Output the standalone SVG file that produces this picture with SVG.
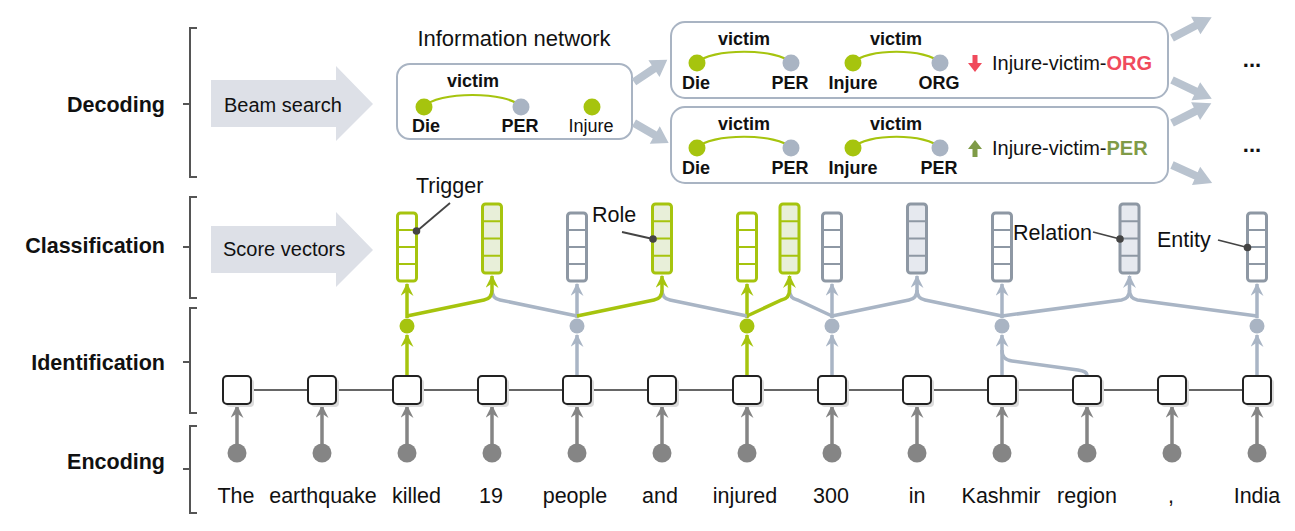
<svg xmlns="http://www.w3.org/2000/svg" xmlns:xlink="http://www.w3.org/1999/xlink" width="1295" height="531" viewBox="0 0 1295 531">
<style>
text{font-family:"Liberation Sans",Arial,Helvetica,sans-serif;fill:#111}
.sec{font-weight:bold;font-size:21.5px;text-anchor:end}
.n20{font-size:20px}
.w{font-size:21.5px;text-anchor:middle}
.cl{font-size:21.5px}
.b18{font-weight:bold;font-size:18px;text-anchor:middle}
.br{fill:none;stroke:#555;stroke-width:2}
.tok{fill:#fff;stroke:#222;stroke-width:2}
.sh{fill:#dcdcdc}
.enc{fill:#858585}
.cg{fill:#a6c40e}
.cb{fill:#a9b4c3}
.lg{fill:none;stroke:#a6c40e;stroke-width:3.5}
.lb{fill:none;stroke:#a9b5c5;stroke-width:3.5}
.le{fill:none;stroke:#858585;stroke-width:3.5}
.vg{fill:#fff;stroke:#a6c40e;stroke-width:3}
.vgf{fill:#e8efd9;stroke:#a6c40e;stroke-width:3}
.vb{fill:#fff;stroke:#8e98a4;stroke-width:3}
.vbf{fill:#e6e9ef;stroke:#8e98a4;stroke-width:3}
.dg{stroke:#a6c40e;stroke-width:2}
.db{stroke:#8e98a4;stroke-width:2}
.box{fill:#fff;stroke:#a9b4c3;stroke-width:2}
.arc{fill:none;stroke:#a6c40e;stroke-width:2.2}
.blk{fill:#b9c3cf}
.big{fill:#dde0e7}
.co{stroke:#444;stroke-width:1.8}
.cod{fill:#444}
</style>
<defs>
<marker id="mg" viewBox="0 0 12 12" refX="11" refY="6" markerWidth="13" markerHeight="13" orient="auto" markerUnits="userSpaceOnUse"><path d="M0,0 L12,6 L0,12 L4,6z" fill="#a6c40e"/></marker>
<marker id="mb" viewBox="0 0 12 12" refX="11" refY="6" markerWidth="13" markerHeight="13" orient="auto" markerUnits="userSpaceOnUse"><path d="M0,0 L12,6 L0,12 L4,6z" fill="#a9b5c5"/></marker>
<marker id="me" viewBox="0 0 12 12" refX="11" refY="6" markerWidth="13" markerHeight="13" orient="auto" markerUnits="userSpaceOnUse"><path d="M0,0 L12,6 L0,12 L4,6z" fill="#858585"/></marker>
<path id="ba" d="M0,-4 L24,-4 L24,-10 L40,0 L24,10 L24,4 L0,4 Z"/>
</defs>

<!-- section brackets and labels -->
<g id="sections">
<path class="br" d="M197,28 H190 V177 H197 M190,104 H183"/>
<path class="br" d="M197,197 H190 V298 H197 M190,247 H183"/>
<path class="br" d="M197,308 H190 V413 H197 M190,362 H183"/>
<path class="br" d="M197,426 H190 V513 H197 M190,469 H183"/>
<text class="sec" x="165" y="112">Decoding</text>
<text class="sec" x="165" y="253">Classification</text>
<text class="sec" x="165" y="370">Identification</text>
<text class="sec" x="165" y="469">Encoding</text>
</g>

<g id="beam-search">
<path class="big" d="M211,80 L336,80 L336,66 L373,104 L336,141 L336,127 L211,127 Z"/>
<text class="n20" x="224" y="112">Beam search</text>
</g>
<g id="score-vectors">
<path class="big" d="M211,226 L336,226 L336,212 L373,250 L336,287 L336,273 L211,273 Z"/>
<text class="n20" x="223" y="256">Score vectors</text>
</g>

<!-- information network -->
<g id="info-network">
<text x="514" y="46" style="font-size:22px;text-anchor:middle">Information network</text>
<rect class="box" x="397" y="64" width="235" height="75" rx="13"/>
<path class="arc" d="M424,107 C436,91 509,91 521,107"/>
<circle class="cg" cx="424" cy="107" r="8.5"/>
<circle class="cb" cx="521" cy="107" r="8.5"/>
<circle class="cg" cx="592" cy="107" r="8.5"/>
<text class="b18" x="473" y="87">victim</text>
<text class="b18" x="426" y="132">Die</text>
<text class="b18" x="520" y="132">PER</text>
<text x="591" y="132" style="font-size:18px;text-anchor:middle">Injure</text>
</g>

<g id="beam-1">
<rect class="box" x="671" y="22" width="497" height="76" rx="14"/>
<path class="arc" d="M697,63 C709,48 779,48 791,63"/>
<path class="arc" d="M853,63 C865,48 928,48 940,63"/>
<circle class="cg" cx="697" cy="63" r="8.5"/>
<circle class="cb" cx="791" cy="63" r="8.5"/>
<circle class="cg" cx="853" cy="63" r="8.5"/>
<circle class="cb" cx="940" cy="63" r="8.5"/>
<text class="b18" x="744" y="45">victim</text>
<text class="b18" x="896" y="45">victim</text>
<text class="b18" x="696" y="89">Die</text>
<text class="b18" x="790" y="89">PER</text>
<text class="b18" x="853" y="89">Injure</text>
<text class="b18" x="939" y="89">ORG</text>
<path d="M972.5,55 L977.5,55 L977.5,63 L982,63 L975,72 L968,63 L972.5,63 Z" fill="#f04a5c"/>
<text class="n20" x="992" y="70">Injure-victim-<tspan style="font-weight:bold;fill:#f04a5c">ORG</tspan></text>
</g>

<g id="beam-2">
<rect class="box" x="671" y="107" width="497" height="76" rx="14"/>
<path class="arc" d="M697,148 C709,133 779,133 791,148"/>
<path class="arc" d="M853,148 C865,133 928,133 940,148"/>
<circle class="cg" cx="697" cy="148" r="8.5"/>
<circle class="cb" cx="791" cy="148" r="8.5"/>
<circle class="cg" cx="853" cy="148" r="8.5"/>
<circle class="cb" cx="940" cy="148" r="8.5"/>
<text class="b18" x="744" y="130">victim</text>
<text class="b18" x="896" y="130">victim</text>
<text class="b18" x="696" y="174">Die</text>
<text class="b18" x="790" y="174">PER</text>
<text class="b18" x="853" y="174">Injure</text>
<text class="b18" x="939" y="174">PER</text>
<path d="M975,140 L982,149 L977.5,149 L977.5,157 L972.5,157 L972.5,149 L968,149 Z" fill="#7f9b47"/>
<text class="n20" x="992" y="155">Injure-victim-<tspan style="font-weight:bold;fill:#7f9b47">PER</tspan></text>
</g>

<g id="ellipsis">
<text x="1252" y="67" style="font-size:22px;font-weight:bold;text-anchor:middle">...</text>
<text x="1252" y="152" style="font-size:22px;font-weight:bold;text-anchor:middle">...</text>
</g>

<!-- connectors -->
<g id="connectors">
<use href="#ba" class="blk" transform="translate(634,82) rotate(-33.7)"/>
<use href="#ba" class="blk" transform="translate(634,123) rotate(30)"/>
<use href="#ba" class="blk" transform="translate(1172,38) rotate(-27.7) scale(1.12,1)"/>
<use href="#ba" class="blk" transform="translate(1172,80) rotate(25.4) scale(1.1,1)"/>
<use href="#ba" class="blk" transform="translate(1172,123) rotate(-26.6) scale(1.1,1)"/>
<use href="#ba" class="blk" transform="translate(1172,165) rotate(24.2) scale(1.1,1)"/>

<!-- token chain -->
<path d="M237,390 H1257" stroke="#333" stroke-width="1.6"/>

<!-- encoding arrows -->
<g marker-end="url(#me)" class="le">
<path d="M237,444 V406"/><path d="M322,444 V406"/><path d="M407,444 V406"/><path d="M492,444 V406"/><path d="M577,444 V406"/><path d="M662,444 V406"/><path d="M747,444 V406"/><path d="M832,444 V406"/><path d="M917,444 V406"/><path d="M1002,444 V406"/><path d="M1087,444 V406"/><path d="M1172,444 V406"/><path d="M1257,444 V406"/>
</g>

<!-- identification arrows -->
<path class="lg" d="M407,376 V335" marker-end="url(#mg)"/>
<path class="lg" d="M747,376 V335" marker-end="url(#mg)"/>
<path class="lb" d="M577,376 V335" marker-end="url(#mb)"/>
<path class="lb" d="M832,376 V335" marker-end="url(#mb)"/>
<path class="lb" d="M1002,376 V335" marker-end="url(#mb)"/>
<path class="lb" d="M1257,376 V335" marker-end="url(#mb)"/>
<path class="lb" d="M1087,376 C1087,372 1084,371 1078,370 L1012,361 C1005,360 1002,357 1002,350"/>

<!-- classification: token vectors -->
<path class="lg" d="M407,318 V284" marker-end="url(#mg)"/>
<path class="lg" d="M747,318 V284" marker-end="url(#mg)"/>
<path class="lb" d="M577,318 V284" marker-end="url(#mb)"/>
<path class="lb" d="M832,318 V284" marker-end="url(#mb)"/>
<path class="lb" d="M1002,318 V284" marker-end="url(#mb)"/>
<path class="lb" d="M1257,318 V284" marker-end="url(#mb)"/>

<!-- classification: pair vectors -->
<path class="lb" d="M577,316 L500,300 Q492,298.5 492,290"/>
<path class="lg" d="M407,316 L484,300 Q492,298.5 492,290 V276" marker-end="url(#mg)"/>
<path class="lb" d="M747,316 L670,300 Q662,298.5 662,290"/>
<path class="lg" d="M577,316 L654,300 Q662,298.5 662,290 V276" marker-end="url(#mg)"/>
<path class="lb" d="M832,316 L797.5,300 Q789.5,298.5 789.5,290"/>
<path class="lg" d="M747,316 L781.5,300 Q789.5,298.5 789.5,290 V276" marker-end="url(#mg)"/>
<path class="lb" d="M832,316 L909,300 Q917,298.5 917,290 V276" marker-end="url(#mb)"/>
<path class="lb" d="M1002,316 L925,300 Q917,298.5 917,290"/>
<path class="lb" d="M1002,316 L1121.5,300 Q1129.5,298.5 1129.5,290 V276" marker-end="url(#mb)"/>
<path class="lb" d="M1257,316 L1137.5,300 Q1129.5,298.5 1129.5,290"/>
</g>

<!-- tokens -->
<g id="tokens">
<g id="tok-The"><rect class="sh" x="226" y="379" width="28" height="28" rx="4"/><rect class="tok" x="223" y="376" width="28" height="28" rx="4"/><circle class="enc" cx="237" cy="453" r="9.5"/><text class="w" x="236" y="503">The</text></g>
<g id="tok-earthquake"><rect class="sh" x="311" y="379" width="28" height="28" rx="4"/><rect class="tok" x="308" y="376" width="28" height="28" rx="4"/><circle class="enc" cx="322" cy="453" r="9.5"/><text class="w" x="323" y="503">earthquake</text></g>
<g id="tok-killed"><rect class="sh" x="396" y="379" width="28" height="28" rx="4"/><rect class="tok" x="393" y="376" width="28" height="28" rx="4"/><circle class="enc" cx="407" cy="453" r="9.5"/><text class="cl" x="392" y="503">killed</text></g>
<g id="tok-19"><rect class="sh" x="481" y="379" width="28" height="28" rx="4"/><rect class="tok" x="478" y="376" width="28" height="28" rx="4"/><circle class="enc" cx="492" cy="453" r="9.5"/><text class="w" x="491" y="503">19</text></g>
<g id="tok-people"><rect class="sh" x="566" y="379" width="28" height="28" rx="4"/><rect class="tok" x="563" y="376" width="28" height="28" rx="4"/><circle class="enc" cx="577" cy="453" r="9.5"/><text class="w" x="575" y="503">people</text></g>
<g id="tok-and"><rect class="sh" x="651" y="379" width="28" height="28" rx="4"/><rect class="tok" x="648" y="376" width="28" height="28" rx="4"/><circle class="enc" cx="662" cy="453" r="9.5"/><text class="w" x="660" y="503">and</text></g>
<g id="tok-injured"><rect class="sh" x="736" y="379" width="28" height="28" rx="4"/><rect class="tok" x="733" y="376" width="28" height="28" rx="4"/><circle class="enc" cx="747" cy="453" r="9.5"/><text class="w" x="745" y="503">injured</text></g>
<g id="tok-300"><rect class="sh" x="821" y="379" width="28" height="28" rx="4"/><rect class="tok" x="818" y="376" width="28" height="28" rx="4"/><circle class="enc" cx="832" cy="453" r="9.5"/><text class="w" x="831" y="503">300</text></g>
<g id="tok-in"><rect class="sh" x="906" y="379" width="28" height="28" rx="4"/><rect class="tok" x="903" y="376" width="28" height="28" rx="4"/><circle class="enc" cx="917" cy="453" r="9.5"/><text class="w" x="917" y="503">in</text></g>
<g id="tok-Kashmir"><rect class="sh" x="991" y="379" width="28" height="28" rx="4"/><rect class="tok" x="988" y="376" width="28" height="28" rx="4"/><circle class="enc" cx="1002" cy="453" r="9.5"/><text class="w" x="1001" y="503">Kashmir</text></g>
<g id="tok-region"><rect class="sh" x="1076" y="379" width="28" height="28" rx="4"/><rect class="tok" x="1073" y="376" width="28" height="28" rx="4"/><circle class="enc" cx="1087" cy="453" r="9.5"/><text class="w" x="1087" y="503">region</text></g>
<g id="tok-comma"><rect class="sh" x="1161" y="379" width="28" height="28" rx="4"/><rect class="tok" x="1158" y="376" width="28" height="28" rx="4"/><circle class="enc" cx="1172" cy="453" r="9.5"/><text class="w" x="1171" y="503">,</text></g>
<g id="tok-India"><rect class="sh" x="1246" y="379" width="28" height="28" rx="4"/><rect class="tok" x="1243" y="376" width="28" height="28" rx="4"/><circle class="enc" cx="1257" cy="453" r="9.5"/><text class="w" x="1257" y="503">India</text></g>
</g>

<!-- identification nodes -->
<g id="ident">
<circle class="cg" cx="407" cy="326" r="7.5"/>
<circle class="cb" cx="577" cy="326" r="7.5"/>
<circle class="cg" cx="747" cy="326" r="7.5"/>
<circle class="cb" cx="832" cy="326" r="7.5"/>
<circle class="cb" cx="1002" cy="326" r="7.5"/>
<circle class="cb" cx="1257" cy="326" r="7.5"/>
</g>

<!-- score vectors -->
<g id="vectors">
<g id="v-killed"><rect class="vg" x="397.5" y="213" width="19" height="68" rx="3"/><path class="dg" d="M397.5,230 h19 M397.5,247 h19 M397.5,264 h19"/></g>
<g id="v-killed-people"><rect class="vgf" x="482.5" y="204" width="19" height="69" rx="3"/><path class="dg" d="M482.5,221.3 h19 M482.5,238.5 h19 M482.5,255.8 h19"/></g>
<g id="v-people"><rect class="vb" x="567.5" y="213" width="19" height="68" rx="3"/><path class="db" d="M567.5,230 h19 M567.5,247 h19 M567.5,264 h19"/></g>
<g id="v-people-injured"><rect class="vgf" x="652.5" y="204" width="19" height="69" rx="3"/><path class="dg" d="M652.5,221.3 h19 M652.5,238.5 h19 M652.5,255.8 h19"/></g>
<g id="v-injured"><rect class="vg" x="737.5" y="213" width="19" height="68" rx="3"/><path class="dg" d="M737.5,230 h19 M737.5,247 h19 M737.5,264 h19"/></g>
<g id="v-injured-300"><rect class="vgf" x="780" y="204" width="19" height="69" rx="3"/><path class="dg" d="M780,221.3 h19 M780,238.5 h19 M780,255.8 h19"/></g>
<g id="v-300"><rect class="vb" x="822.5" y="213" width="19" height="68" rx="3"/><path class="db" d="M822.5,230 h19 M822.5,247 h19 M822.5,264 h19"/></g>
<g id="v-300-Kashmir"><rect class="vbf" x="907.5" y="204" width="19" height="69" rx="3"/><path class="db" d="M907.5,221.3 h19 M907.5,238.5 h19 M907.5,255.8 h19"/></g>
<g id="v-Kashmir"><rect class="vb" x="992.5" y="213" width="19" height="68" rx="3"/><path class="db" d="M992.5,230 h19 M992.5,247 h19 M992.5,264 h19"/></g>
<g id="v-Kashmir-India"><rect class="vbf" x="1120" y="204" width="19" height="69" rx="3"/><path class="db" d="M1120,221.3 h19 M1120,238.5 h19 M1120,255.8 h19"/></g>
<g id="v-India"><rect class="vb" x="1247.5" y="213" width="19" height="68" rx="3"/><path class="db" d="M1247.5,230 h19 M1247.5,247 h19 M1247.5,264 h19"/></g>
</g>

<!-- callouts -->
<g id="callouts">
<text class="cl" x="416" y="193">Trigger</text>
<path class="co" d="M450,203 L417,231"/><circle class="cod" cx="416.5" cy="231" r="3.8"/>
<text class="cl" x="592" y="222">Role</text>
<path class="co" d="M622,232 L653,239"/><circle class="cod" cx="653" cy="239" r="3.8"/>
<text class="cl" x="1013" y="240">Relation</text>
<path class="co" d="M1093,232 L1120,239"/><circle class="cod" cx="1120" cy="239" r="3.8"/>
<text class="cl" x="1157" y="247">Entity</text>
<path class="co" d="M1218,240 L1247.5,247.5"/><circle class="cod" cx="1247.5" cy="247.5" r="3.8"/>
</g>
</svg>
